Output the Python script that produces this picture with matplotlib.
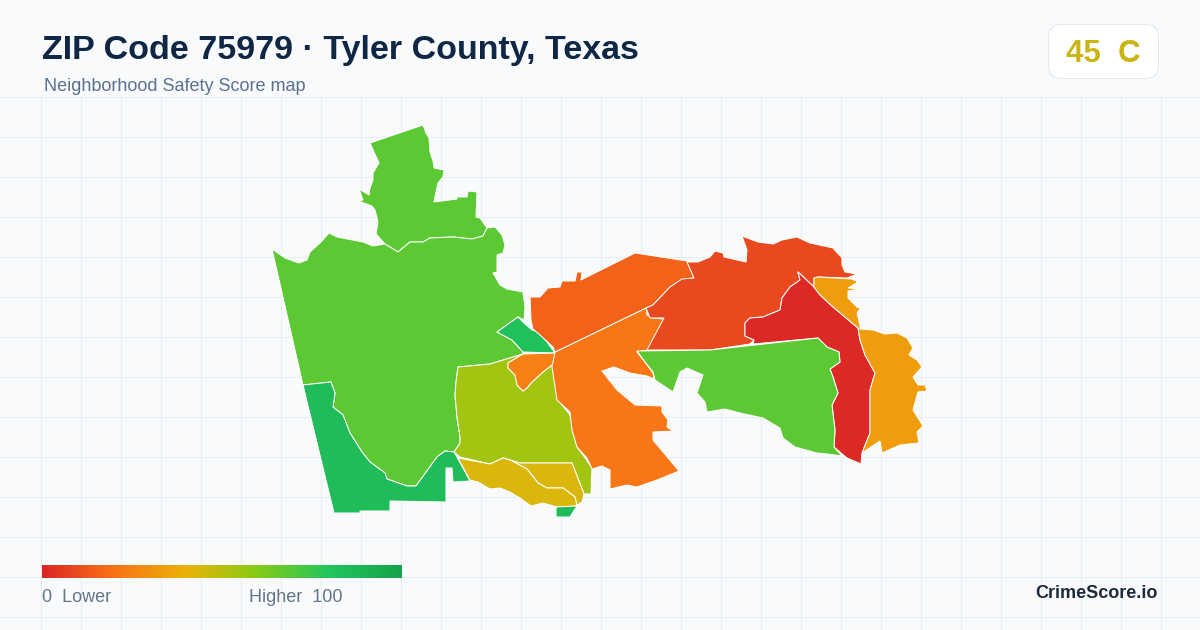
import numpy as np
import matplotlib
matplotlib.use('Agg')
import matplotlib.pyplot as plt
from matplotlib.colors import LinearSegmentedColormap
from matplotlib.patches import FancyBboxPatch

plt.rcParams['font.family'] = ['Liberation Sans', 'DejaVu Sans']

title = 'ZIP Code 75979 · Tyler County, Texas'
subtitle = 'Neighborhood Safety Score map'
score_text = '45  C'
brand = 'CrimeScore.io'

stop_pos = [0, 0.2, 0.4, 0.6, 0.8, 1]
stop_colors = ['#dc2626', '#f97316', '#eab308', '#84cc16', '#22c55e', '#16a34a']

north = [(370,143),(423,125),(426,133),(429,138),(430,152),(433,161),(434,168),(444,170),(443,177),(438,183),
         (436,192),(434,202),(457,199),(457,197),(467,197),(468,191),(477,192),(476,217),(480,218),(487,228),
         (483,236),(472,239),(453,237),(430,238),(423,242),(410,242),(398,252),(385,244),(376,234),(378,222),
         (375,210),(372,206),(358,201),(363,200),(359,189),(369,195),(370,188),(373,180),(373,173),(379,163)]
main_west = [(272,249),(285,258),(299,263),(307,260),(310,252),(320,243),(329,233),(337,237),(363,242),(373,246),
             (385,244),(398,252),(410,242),(423,242),(430,238),(453,237),(472,239),(483,236),(487,228),(495,227),
             (502,235),(505,245),(503,253),(497,255),(497,272),(493,273),(500,285),(507,289),(523,292),(525,307),
             (524,320),(518,317),(497,332),(512,340),(523,352),(523,354),(490,364),(458,367),(456,382),(455,395),
             (457,417),(460,437),(460,443),(454,452),(445,451),(437,457),(416,486),(407,486),(387,479),(385,473),
             (370,462),(362,452),(350,433),(343,415),(333,407),(335,393),(331,382),(303,385)]
southwest = [(303,385),(331,382),(335,393),(333,407),(343,415),(350,433),(362,452),(370,462),(385,473),(387,479),
             (407,486),(416,486),(437,457),(445,451),(454,452),(458,459),(470,481),(453,482),(452,468),(446,468),
             (446,502),(390,501),(390,511),(360,511),(360,513),(334,513)]
teal = [(518,317),(497,332),(512,340),(523,352),(555,353),(547,342),(538,332),(532,330),(524,323)]
olive = [(458,367),(490,364),(523,354),(508,363),(508,368),(515,375),(517,385),(523,391),(527,388),(532,382),
         (543,372),(552,365),(555,385),(558,400),(570,415),(573,432),(577,447),(583,455),(592,468),(591,494),
         (584,494),(572,463),(542,463),(520,463),(503,458),(490,464),(460,457),(454,452),(460,443),(460,437),
         (457,417),(455,395),(456,382)]
small_orange = [(523,354),(555,353),(555,359),(552,365),(543,372),(532,382),(527,388),(523,391),(517,385),
                (515,375),(508,368),(508,363)]
yellow_east = [(503,458),(520,463),(542,463),(572,463),(584,494),(582,502),(577,505),(575,497),(563,488),
               (547,488),(538,483),(527,469),(510,460)]
yellow_west = [(458,458),(490,464),(503,458),(510,460),(527,469),(538,483),(547,488),(563,488),(575,497),(577,506),
               (557,507),(543,503),(531,506),(520,498),(510,492),(500,488),(490,489),(478,482),(470,480)]
south_tip = [(556,507),(577,506),(570,517),(556,517)]
central = [(555,352),(646,308),(647,315),(653,318),(664,319),(655,338),(648,350),(637,352),(645,362),(653,373),
           (654,379),(647,376),(630,373),(614,367),(602,371),(617,390),(635,405),(662,406),(662,412),(668,420),
           (667,427),(673,431),(653,432),(653,440),(679,471),(657,480),(637,487),(627,485),(610,489),(610,470),
           (602,466),(592,469),(587,458),(577,447),(572,430),(570,412),(557,400),(552,367)]
upper_orange = [(555,352),(553,347),(540,335),(533,329),(531,320),(530,297),(540,297),(548,288),(560,287),(562,281),
                (575,281),(577,272),(582,272),(581,280),(635,253),(687,261),(694,278),(682,280),(670,287),(653,305),(646,308)]
red_orange = [(687,262),(698,262),(710,257),(715,251),(723,253),(724,257),(746,262),(747,250),(742,236),(758,242),
              (773,244),(782,240),(797,237),(810,243),(833,248),(842,258),(842,265),(845,272),(857,274),(847,278),
              (818,277),(814,278),(814,287),(798,272),(800,280),(790,287),(782,298),(780,310),(763,317),(750,318),
              (745,323),(745,336),(754,340),(750,344),(710,350),(647,350),(656,333),(664,318),(650,318),(646,308),
              (653,305),(670,287),(682,279),(694,278)]
red = [(798,272),(814,287),(820,295),(833,307),(858,328),(860,340),(865,355),(875,373),(870,390),(870,433),
       (862,453),(861,464),(847,458),(834,447),(835,430),(832,405),(838,393),(833,377),(830,369),(840,362),
       (839,352),(827,347),(818,338),(753,344),(754,340),(745,336),(745,323),(750,318),(763,317),(780,310),
       (782,298),(790,287),(800,280)]
east_green = [(637,351),(710,350),(818,338),(827,347),(839,352),(840,362),(830,369),(833,377),(838,393),(832,405),
              (835,430),(834,447),(842,456),(827,454),(817,453),(795,447),(783,438),(780,428),(763,418),(740,413),
              (725,409),(707,412),(705,402),(697,393),(703,375),(687,368),(680,372),(673,392),(655,380),(653,372),(645,362)]
gold = [(814,278),(818,277),(852,279),(858,282),(848,288),(860,289),(848,291),(848,298),(858,308),(862,306),
        (857,313),(860,325),(860,329),(873,330),(885,334),(897,333),(907,338),(913,348),(909,355),(917,360),
        (922,367),(913,377),(918,385),(925,385),(927,391),(918,392),(913,410),(923,426),(917,432),(919,443),
        (900,445),(882,453),(880,441),(862,453),(870,433),(870,390),(875,373),(865,355),(860,340),(858,328),
        (833,307),(820,295),(814,287)]

regions = [north, main_west, southwest, teal, olive, small_orange, yellow_east, yellow_west, south_tip,
           central, upper_orange, red_orange, red, east_green, gold]
scores = [68, 68, 85, 83, 54, 24, 43, 43, 85, 21, 16, 9, 1, 68, 33]

cmap = LinearSegmentedColormap.from_list('score', list(zip(stop_pos, stop_colors)))

fig = plt.figure(figsize=(12, 6.3), dpi=100, facecolor='#f8fafc')
ax = fig.add_axes([0, 0, 1, 1])
ax.set_xlim(0, 1200)
ax.set_ylim(630, 0)
ax.axis('off')

# background grid
for x in np.arange(40, 1200, 40):
    ax.plot([x + 0.5, x + 0.5], [96, 630], color='#e6eef4', lw=0.72, zorder=1)
for y in np.arange(96, 630, 40):
    ax.plot([0, 1200], [y + 0.5, y + 0.5], color='#e6eef4', lw=0.72, zorder=1)

for poly, s in zip(regions, scores):
    xs, ys = zip(*poly)
    ax.fill(xs, ys, facecolor=cmap(s / 100), edgecolor='white', lw=0.72, joinstyle='round', zorder=2)

ax.text(42, 59, title, fontsize=24.5, fontweight='bold', color='#0f2744', va='baseline', ha='left', zorder=5)
ax.text(44, 91, subtitle, fontsize=12.96, color='#5a7190', va='baseline', ha='left', zorder=5)

# score badge
card = FancyBboxPatch((1048.5, 24.5), 110, 54, boxstyle='round,pad=0,rounding_size=13',
                      facecolor='white', edgecolor='#e2e8f0', lw=0.72, zorder=4)
ax.add_patch(card)
ax.text(1103, 62, score_text, fontsize=22.5, fontweight='bold', color='#cab514', va='baseline', ha='center', zorder=5)

# legend gradient
grad = np.linspace(0, 1, 360).reshape(1, -1)
ax.imshow(grad, cmap=cmap, extent=(42, 402, 578, 565), aspect='auto', zorder=4)
ax.set_xlim(0, 1200)
ax.set_ylim(630, 0)
ax.text(42, 602, '0  Lower', fontsize=12.96, color='#64748b', va='baseline', ha='left', zorder=5)
ax.text(249, 602, 'Higher  100', fontsize=12.96, color='#64748b', va='baseline', ha='left', zorder=5)
ax.text(1158, 598, brand, fontsize=13, fontweight='bold', color='#1e293b', va='baseline', ha='right', zorder=5)

fig.savefig('out.png', dpi=100, facecolor=fig.get_facecolor())
